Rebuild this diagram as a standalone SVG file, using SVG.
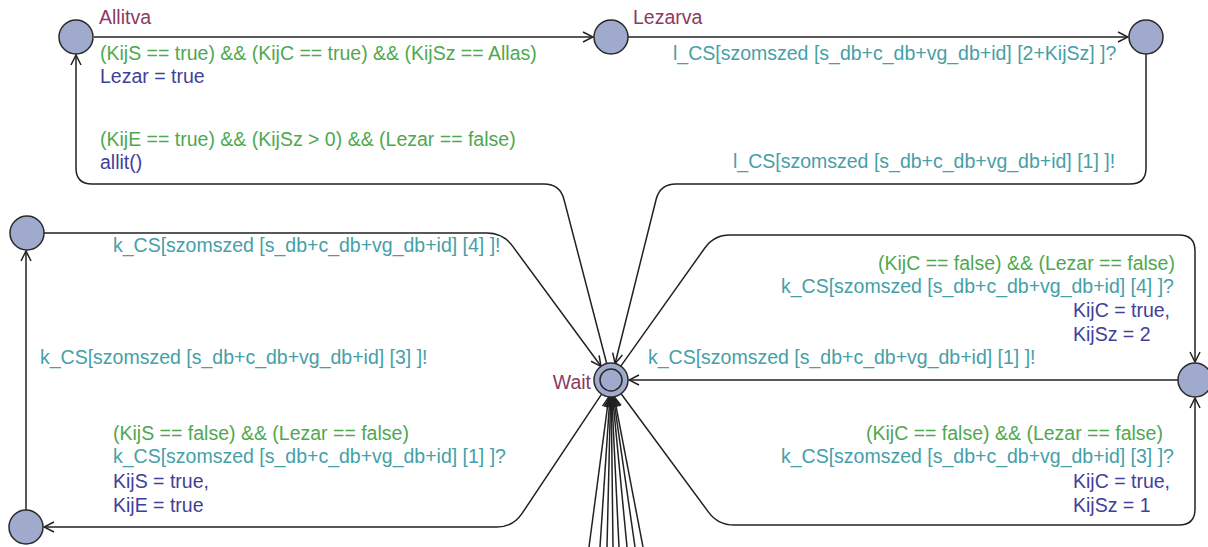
<svg xmlns="http://www.w3.org/2000/svg" width="1208" height="547" viewBox="0 0 1208 547">
  <defs>
    <style>
      .loc { fill: #a0aacd; stroke: #2a2a2a; stroke-width: 1.5; }
      .edge { fill: none; stroke: #222; stroke-width: 1.5; marker-end: url(#arrow); }
      .plain { fill: none; stroke: #222; stroke-width: 1.5; }
      text { font-family: "Liberation Sans", Arial, sans-serif; font-size: 19.5px; }
      .name { fill: #8c3a64; }
      .guard { fill: #4fa84f; }
      .sync { fill: #45a0a8; }
      .upd { fill: #40409a; }
    </style>
    <marker id="arrow" viewBox="0 0 12 12" refX="11" refY="6" markerWidth="12" markerHeight="12" markerUnits="userSpaceOnUse" orient="auto">
      <path d="M1,1 L11,6 L1,11" fill="none" stroke="#222" stroke-width="1.5"/>
    </marker>
  </defs>
  <rect width="1208" height="547" fill="#ffffff"/>

  <!-- transitions -->
  <g id="connectors">
    <!-- Allitva -> Lezarva -->
    <path class="edge" d="M94,37 L593,37"/>
    <!-- Lezarva -> upper right -->
    <path class="edge" d="M628,37 L1128,37"/>
    <!-- upper right -> Wait -->
    <path class="edge" d="M1146,54 L1146,168 Q1146,184 1130,184 L676,184 Q660,184 656.1,199.5 L615.1,363.5"/>
    <!-- Wait -> Allitva -->
    <path class="edge" d="M606.7,363.5 L564,199.5 Q560,184 544,184 L92,184 Q76,184 76,168 L76,55"/>
    <!-- left middle -> Wait -->
    <path class="edge" d="M44,233 L487,233 Q503,233 512.4,245.9 L601,366.3"/>
    <!-- lower left -> left middle -->
    <path class="edge" d="M26,510 L26,251"/>
    <!-- Wait -> lower left -->
    <path class="edge" d="M601.6,394.1 L521.9,513.7 Q513,527 497,527 L44,527"/>
    <!-- Wait -> right middle (upper route) -->
    <path class="edge" d="M620.8,366.1 L704.8,248 Q714,235 730,235 L1179,235 Q1195,235 1195,251 L1195,362"/>
    <!-- right middle -> Wait -->
    <path class="edge" d="M1178,380 L629,380"/>
    <!-- Wait -> right middle (lower route) -->
    <path class="edge" d="M621.1,393.7 L708.5,512.1 Q718,525 734,525 L1179,525 Q1195,525 1195,509 L1195,398"/>
    <!-- incoming transitions from below -->
    <path class="edge" d="M589,547 L608.8,396.9"/>
    <path class="edge" d="M600,547 L609.9,397"/>
    <path class="edge" d="M607,547 L610.6,397"/>
    <path class="edge" d="M613,547 L611.2,397"/>
    <path class="edge" d="M619,547 L611.8,397"/>
    <path class="edge" d="M627,547 L612.6,396.9"/>
    <path class="edge" d="M635,547 L613.4,396.8"/>
    <path class="edge" d="M643,547 L614.2,396.7"/>
  </g>

  <!-- transition labels -->
  <g id="labels">
    <text class="guard" x="100" y="60">(KijS == true) &amp;&amp; (KijC == true) &amp;&amp; (KijSz == Allas)</text>
    <text class="upd" x="100" y="83">Lezar = true</text>
    <text class="guard" x="100" y="146">(KijE == true) &amp;&amp; (KijSz &gt; 0) &amp;&amp; (Lezar == false)</text>
    <text class="upd" x="100" y="169">allit()</text>
    <text class="sync" x="673" y="60">l_CS[szomszed [s_db+c_db+vg_db+id] [2+KijSz] ]?</text>
    <text class="sync" x="733" y="168">l_CS[szomszed [s_db+c_db+vg_db+id] [1] ]!</text>
    <text class="sync" x="113" y="252">k_CS[szomszed [s_db+c_db+vg_db+id] [4] ]!</text>
    <text class="sync" x="40" y="364">k_CS[szomszed [s_db+c_db+vg_db+id] [3] ]!</text>
    <text class="sync" x="648" y="364">k_CS[szomszed [s_db+c_db+vg_db+id] [1] ]!</text>
    <text class="guard" x="878" y="270">(KijC == false) &amp;&amp; (Lezar == false)</text>
    <text class="sync" x="781" y="293">k_CS[szomszed [s_db+c_db+vg_db+id] [4] ]?</text>
    <text class="upd" x="1073" y="317">KijC = true,</text>
    <text class="upd" x="1073" y="341">KijSz = 2</text>
    <text class="guard" x="113" y="440">(KijS == false) &amp;&amp; (Lezar == false)</text>
    <text class="sync" x="113" y="463">k_CS[szomszed [s_db+c_db+vg_db+id] [1] ]?</text>
    <text class="upd" x="113" y="488">KijS = true,</text>
    <text class="upd" x="113" y="512">KijE = true</text>
    <text class="guard" x="866" y="440">(KijC == false) &amp;&amp; (Lezar == false)</text>
    <text class="sync" x="781" y="463">k_CS[szomszed [s_db+c_db+vg_db+id] [3] ]?</text>
    <text class="upd" x="1073" y="488">KijC = true,</text>
    <text class="upd" x="1073" y="512">KijSz = 1</text>
  </g>

  <!-- locations -->
  <g id="allitva">
    <circle class="loc" cx="76" cy="37" r="17"/>
    <text class="name" x="99" y="24">Allitva</text>
  </g>
  <g id="lezarva">
    <circle class="loc" cx="611" cy="37" r="17"/>
    <text class="name" x="633" y="24">Lezarva</text>
  </g>
  <g id="upper-right">
    <circle class="loc" cx="1146" cy="37" r="17"/>
  </g>
  <g id="left-middle">
    <circle class="loc" cx="27" cy="233" r="17"/>
  </g>
  <g id="lower-left">
    <circle class="loc" cx="26" cy="527" r="17"/>
  </g>
  <g id="right-middle">
    <circle class="loc" cx="1195" cy="380" r="17"/>
  </g>
  <g id="wait">
    <circle class="loc" cx="611" cy="380" r="17"/>
    <circle cx="611" cy="380" r="11" fill="none" stroke="#2a2a2a" stroke-width="1.5"/>
    <text class="name" x="591" y="389" text-anchor="end">Wait</text>
  </g>
</svg>
